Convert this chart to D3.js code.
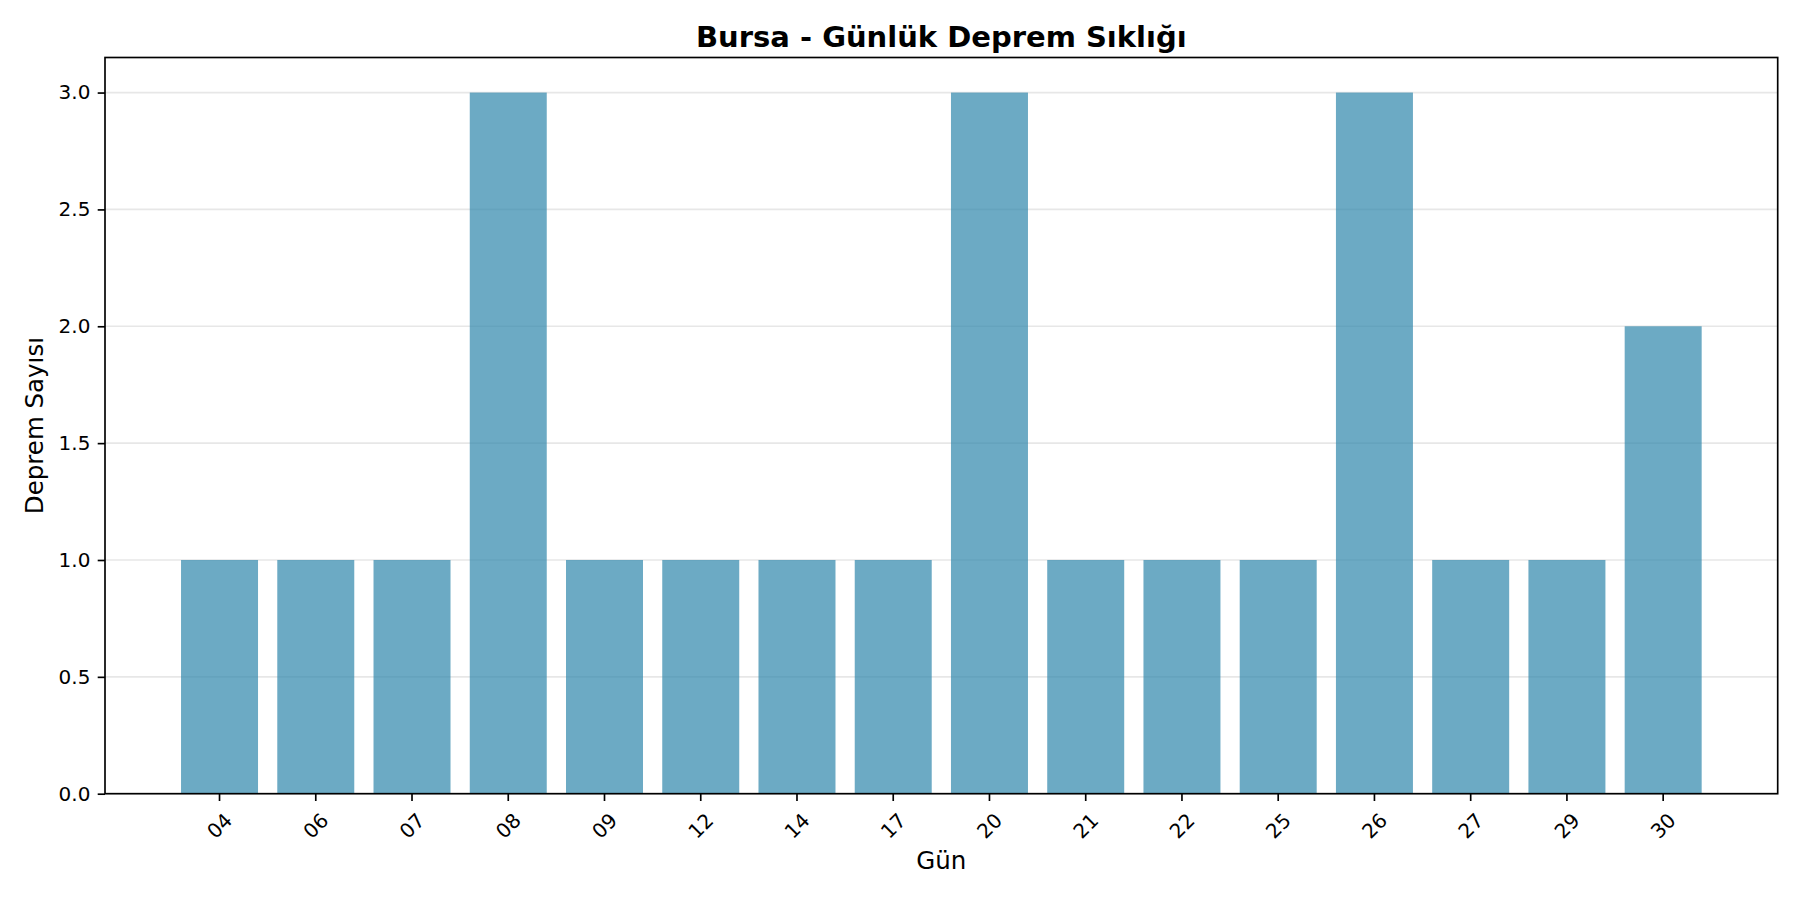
<!DOCTYPE html>
<html>
<head>
<meta charset="utf-8">
<script src="https://cdn.jsdelivr.net/npm/d3@7"></script>
<style>
  html, body { margin: 0; padding: 0; background: #fff; }
  svg { display: block; font-family: "DejaVu Sans", sans-serif; }
</style>
</head>
<body>
<svg id="chart" width="1800" height="900"></svg>
<script>
const title = "Bursa - Günlük Deprem Sıklığı";
const xLabel = "Gün";
const yLabel = "Deprem Sayısı";
const days = ["04","06","07","08","09","12","14","17","20","21","22","25","26","27","29","30"];
const counts = [1,1,1,3,1,1,1,1,3,1,1,1,3,1,1,2];
const yTicks = [0, 0.5, 1.0, 1.5, 2.0, 2.5, 3.0];

const plotL = 105, plotR = 1777.7, plotT = 57.5, plotB = 793.7;

const svg = d3.select("#chart");

const x = d3.scaleBand().domain(days).range([plotL, plotR]).paddingInner(0.2).paddingOuter(0.79);
const y = d3.scaleLinear().domain([0, d3.max(counts) * 1.05]).range([plotB, plotT]);

// grid
svg.append("g").selectAll("line").data(yTicks).join("line")
  .attr("x1", plotL).attr("x2", plotR)
  .attr("y1", d => y(d)).attr("y2", d => y(d))
  .attr("stroke", "#b0b0b0").attr("stroke-opacity", 0.3).attr("stroke-width", 1.67);

// bars
svg.append("g").selectAll("rect").data(days).join("rect")
  .attr("x", d => x(d))
  .attr("width", x.bandwidth())
  .attr("y", (d, i) => y(counts[i]))
  .attr("height", (d, i) => y(0) - y(counts[i]))
  .attr("fill", "#2E86AB").attr("fill-opacity", 0.7);

// y axis
const yAxis = svg.append("g").attr("transform", `translate(${plotL},0)`)
  .call(d3.axisLeft(y).tickValues(yTicks).tickFormat(d3.format(".1f")).tickSize(7.3).tickPadding(7.3));
yAxis.select(".domain").remove();
yAxis.selectAll(".tick line").attr("stroke", "#000").attr("stroke-width", 1.67);
yAxis.selectAll(".tick text").attr("font-size", "20px").attr("fill", "#000")
  .attr("font-family", "DejaVu Sans");

// x axis
const xAxis = svg.append("g").attr("transform", `translate(0,${plotB})`)
  .call(d3.axisBottom(x).tickSize(7.3).tickPadding(0));
xAxis.select(".domain").remove();
xAxis.selectAll(".tick line").attr("stroke", "#000").attr("stroke-width", 1.67);
xAxis.selectAll(".tick text")
  .attr("font-size", "20px").attr("fill", "#000").attr("font-family", "DejaVu Sans")
  .attr("y", null).attr("dy", null)
  .attr("text-anchor", "middle")
  .attr("dominant-baseline", "central")
  .attr("transform", "translate(0,32) rotate(-45)");

// frame
svg.append("rect")
  .attr("x", plotL).attr("y", plotT)
  .attr("width", plotR - plotL).attr("height", plotB - plotT)
  .attr("fill", "none").attr("stroke", "#000").attr("stroke-width", 1.67);

// title
svg.append("text")
  .attr("x", (plotL + plotR) / 2).attr("y", 46.7)
  .attr("text-anchor", "middle")
  .attr("font-size", "29px").attr("font-weight", "bold").attr("fill", "#000")
  .text(title);

// x label
svg.append("text")
  .attr("x", (plotL + plotR) / 2).attr("y", 869.3)
  .attr("text-anchor", "middle")
  .attr("font-size", "24.5px").attr("fill", "#000")
  .text(xLabel);

// y label
svg.append("text")
  .attr("transform", `translate(43,${(plotT + plotB) / 2}) rotate(-90)`)
  .attr("text-anchor", "middle")
  .attr("font-size", "24.5px").attr("fill", "#000")
  .text(yLabel);
</script>
</body>
</html>
